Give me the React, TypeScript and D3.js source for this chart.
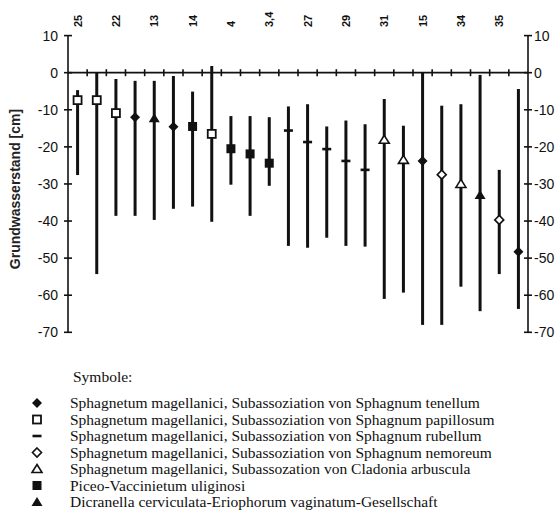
import React from "react";
import * as d3 from "d3";

const labels = ["25", "", "22", "", "13", "", "14", "", "4", "", "3,4", "", "27", "", "29", "", "31", "", "15", "", "34", "", "35", ""];
const tops = [-4.7, 0, -1.7, -2.2, -2.2, -0.9, -5.1, 1.8, -11.7, -11.7, -12, -9.1, -8.5, -14.5, -12.9, -13.9, -7.1, -14.3, 0, -8.9, -8.5, -0.6, -26.2, -4.4];
const means = [-7.4, -7.4, -10.9, -12, -12.3, -14.6, -14.5, -16.5, -20.5, -21.9, -24.4, -15.6, -18.7, -20.6, -23.8, -26.2, -18.1, -23.5, -23.8, -27.5, -30, -33, -39.7, -48.3];
const bottoms = [-27.6, -54.3, -38.6, -38.6, -39.7, -36.7, -36.1, -40.2, -30.2, -38.6, -30.5, -46.7, -47.2, -44.5, -46.7, -46.9, -61, -59.3, -68, -68, -57.7, -64.3, -54.3, -63.7];
const symbols = ["sqOpen", "sqOpen", "sqOpen", "diaFill", "triFill", "diaFill", "sqFill", "sqOpen", "sqFill", "sqFill", "sqFill", "dash", "dash", "dash", "dash", "dash", "triOpen", "triOpen", "diaFill", "diaOpen", "triOpen", "triFill", "diaOpen", "diaFill"];
const yTicks = [10, 0, -10, -20, -30, -40, -50, -60, -70];

const legendTitle = "Symbole:";
const legendItems = [
  { sym: ["diaFill"], text: "Sphagnetum magellanici, Subassoziation von Sphagnum tenellum" },
  { sym: ["sqOpen"], text: "Sphagnetum magellanici, Subassoziation von Sphagnum papillosum" },
  { sym: ["dash"], text: "Sphagnetum magellanici, Subassoziation von Sphagnum rubellum" },
  { sym: ["diaOpen"], text: "Sphagnetum magellanici, Subassoziation von Sphagnum nemoreum" },
  { sym: ["triOpen"], text: "Sphagnetum magellanici, Subassozation von Cladonia arbuscula" },
  { sym: ["sqFill"], text: "Piceo-Vaccinietum uliginosi" },
  { sym: ["triFill"], text: "Dicranella cerviculata-Eriophorum vaginatum-Gesellschaft" },
];

const SANS = "'Liberation Sans', Arial, sans-serif";
const SERIF = "'Liberation Serif', 'Times New Roman', serif";

function Marker({ type, x, y }: { type: string; x: number; y: number }) {
  const s = 4;
  switch (type) {
    case "sqOpen":
      return <rect x={x - s} y={y - s} width={2 * s} height={2 * s} fill="#fff" stroke="#111" strokeWidth={1.8} />;
    case "sqFill":
      return <rect x={x - s - 0.5} y={y - s - 0.5} width={2 * s + 1} height={2 * s + 1} fill="#111" />;
    case "diaFill":
      return <path d={`M${x},${y - 5} L${x + 5},${y} L${x},${y + 5} L${x - 5},${y} Z`} fill="#111" />;
    case "diaOpen":
      return <path d={`M${x},${y - 4.5} L${x + 4.5},${y} L${x},${y + 4.5} L${x - 4.5},${y} Z`} fill="#fff" stroke="#111" strokeWidth={1.6} />;
    case "triFill":
      return <path d={`M${x},${y - 5} L${x + 5.5},${y + 4} L${x - 5.5},${y + 4} Z`} fill="#111" />;
    case "triOpen":
      return <path d={`M${x},${y - 4.5} L${x + 5},${y + 3.5} L${x - 5},${y + 3.5} Z`} fill="#fff" stroke="#111" strokeWidth={1.6} />;
    case "dash":
      return <rect x={x - 4.5} y={y - 1.3} width={9} height={2.6} fill="#111" />;
    default:
      return null;
  }
}

export default function App() {
  const W = 560, H = 517;
  const x0 = 68, x1 = 528;
  const y = d3.scaleLinear().domain([10, -70]).range([35.6, 332.3]);
  const idx = labels.map((_, i) => i);
  const x = d3.scaleBand<number>().domain(idx).range([x0, x1]).paddingInner(0).paddingOuter(0);
  const bw = x.bandwidth();
  const cx = (i: number) => (x(i) as number) + bw / 2;
  const y0 = y(0);

  return (
    <svg width={W} height={H} style={{ position: "absolute", left: 0, top: 0, background: "#fff" }}>
      <rect x={0} y={0} width={W} height={H} fill="#fff" />
      {/* axes */}
      <line x1={x0} x2={x0} y1={y(10)} y2={y(-70)} stroke="#111" strokeWidth={1.6} />
      <line x1={x1} x2={x1} y1={y(10)} y2={y(-70)} stroke="#111" strokeWidth={1.6} />
      <line x1={x0} x2={x1} y1={y0} y2={y0} stroke="#111" strokeWidth={1.8} />
      {yTicks.map((t) => (
        <g key={t}>
          <line x1={x0 - 4} x2={x0 + 4} y1={y(t)} y2={y(t)} stroke="#111" strokeWidth={1.6} />
          <line x1={x1 - 4} x2={x1 + 4} y1={y(t)} y2={y(t)} stroke="#111" strokeWidth={1.6} />
          <text x={58} y={y(t)} dy="0.36em" textAnchor="end" fontFamily={SANS} fontSize={14} fill="#111">{t}</text>
          <text x={534} y={y(t)} dy="0.36em" textAnchor="start" fontFamily={SANS} fontSize={14} fill="#111">{t}</text>
        </g>
      ))}
      {idx.slice(1).map((i) => (
        <line key={i} x1={x(i) as number} x2={x(i) as number} y1={y0 - 3.5} y2={y0 + 3.5} stroke="#111" strokeWidth={1.6} />
      ))}
      {/* bars */}
      {idx.map((i) => (
        <line key={"b" + i} x1={cx(i)} x2={cx(i)} y1={y(tops[i])} y2={y(bottoms[i])} stroke="#111" strokeWidth={3} />
      ))}
      {idx.map((i) => (
        <Marker key={"m" + i} type={symbols[i]} x={cx(i)} y={y(means[i])} />
      ))}
      {/* top labels */}
      {idx.filter((i) => labels[i]).map((i) => (
        <text key={"l" + i} transform={`translate(${cx(i)},27) rotate(-90)`} dy="0.36em" textAnchor="start"
          fontFamily={SANS} fontWeight="bold" fontSize={11} fill="#111">{labels[i]}</text>
      ))}
      {/* y title */}
      <text transform={`translate(20,189) rotate(-90)`} textAnchor="middle" fontFamily={SANS} fontWeight="bold" fontSize={14} fill="#222">
        Grundwasserstand [cm]
      </text>
      {/* legend */}
      <text x={73} y={382} fontFamily={SERIF} fontSize={15.5} fill="#111">{legendTitle}</text>
      {legendItems.map((it, k) => {
        const ly = 403 + k * 16.5;
        return (
          <g key={k}>
            <Marker type={it.sym[0]} x={37} y={ly} />
            <text x={70} y={ly} dy="0.33em" fontFamily={SERIF} fontSize={15.5} fill="#111">{it.text}</text>
          </g>
        );
      })}
    </svg>
  );
}
